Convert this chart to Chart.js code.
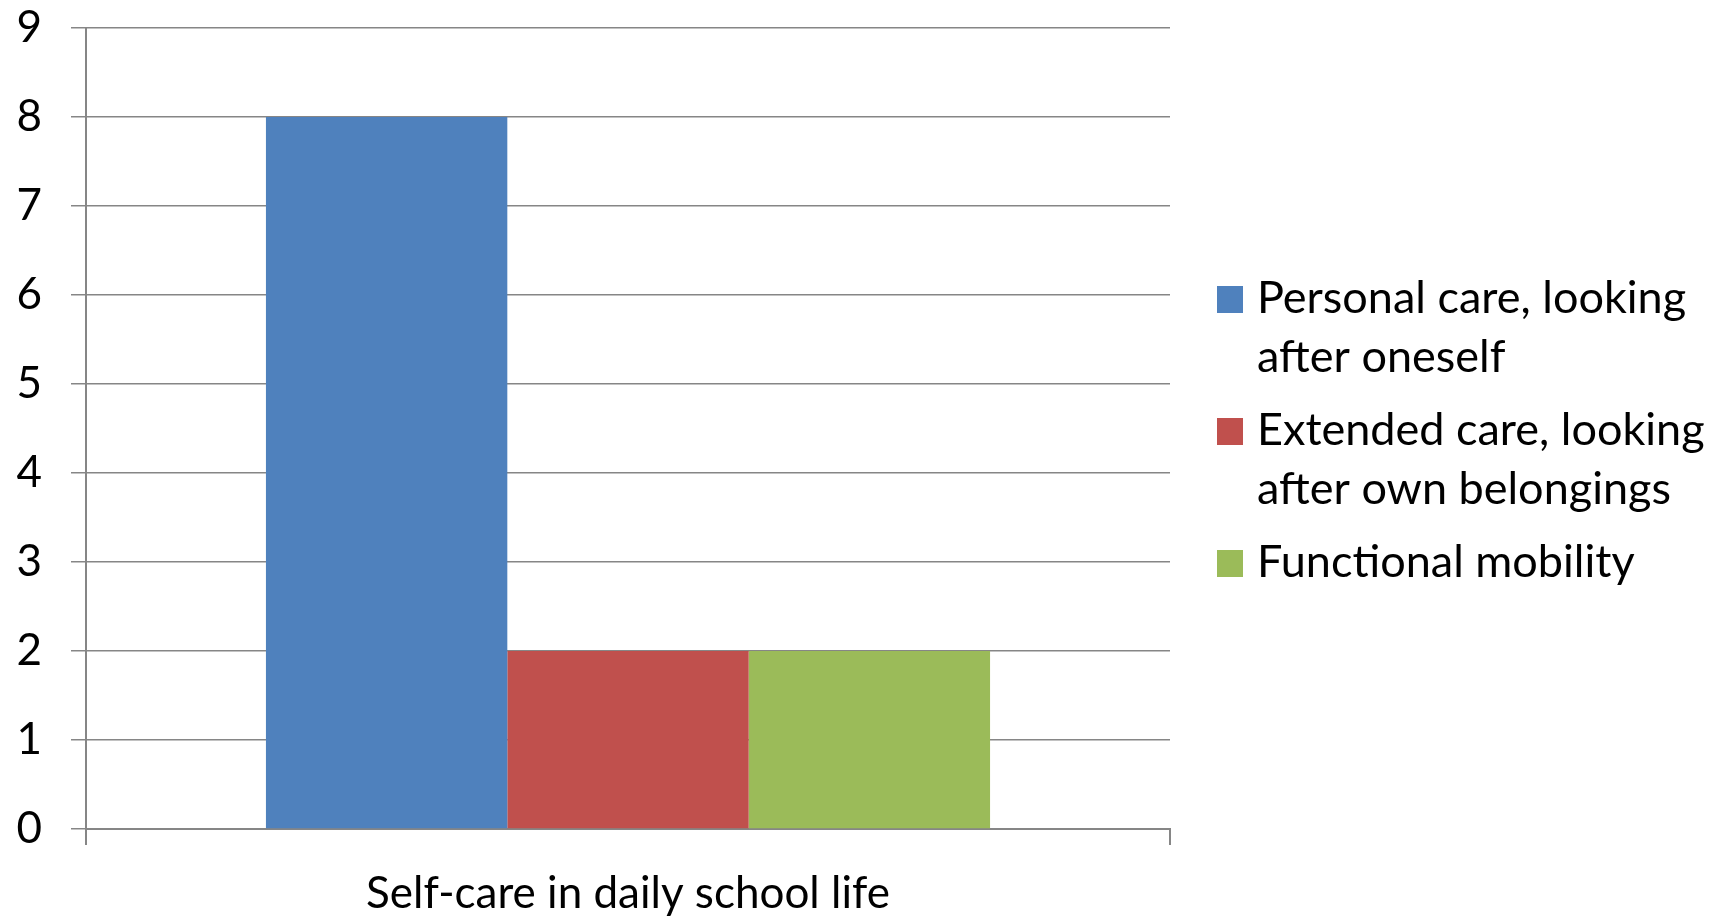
<!DOCTYPE html>
<html>
<head>
<meta charset="utf-8">
<script src="https://cdn.jsdelivr.net/npm/chart.js@4/dist/chart.umd.min.js"></script>
<style>
  html, body { margin: 0; padding: 0; background: #fff; }
  #wrap { width: 1715px; height: 916px; position: relative; }
</style>
</head>
<body>
<div id="wrap"><canvas id="careChart"></canvas></div>
<script>
  const categories = ['Self-care in daily school life'];
  const seriesNames = [
    ['Personal care, looking', 'after oneself'],
    ['Extended care, looking', 'after own belongings'],
    ['Functional mobility']
  ];
  const personalCare = [8];
  const extendedCare = [2];
  const functionalMobility = [2];
  const yTicks = [0, 1, 2, 3, 4, 5, 6, 7, 8, 9];

  const colors = ['#4F81BD', '#C0504D', '#9BBB59'];
  const gridColor = '#868686';
  const fontFamily = 'Lato, "Open Sans", sans-serif';

  // legend to the right of the plot, labels wrap onto two lines
  const sideLegend = {
    id: 'sideLegend',
    afterDraw(chart) {
      const ctx = chart.ctx;
      const x = chart.chartArea.right + 47;
      let baseline = 313;
      ctx.save();
      ctx.font = '45px ' + fontFamily;
      ctx.textBaseline = 'alphabetic';
      ctx.textAlign = 'left';
      chart.data.datasets.forEach(function (ds) {
        ctx.fillStyle = ds.backgroundColor;
        ctx.fillRect(x, baseline - 27, 26, 27);
        ctx.fillStyle = '#000';
        ds.label.forEach(function (line, i) {
          ctx.fillText(line, x + 40, baseline + i * 59);
        });
        baseline += ds.label.length * 59 + 14;
      });
      ctx.restore();
    }
  };

  const ctx = document.getElementById('careChart').getContext('2d');
  new Chart(ctx, {
    type: 'bar',
    data: {
      labels: categories,
      datasets: [
        { label: seriesNames[0], data: personalCare, backgroundColor: colors[0] },
        { label: seriesNames[1], data: extendedCare, backgroundColor: colors[1] },
        { label: seriesNames[2], data: functionalMobility, backgroundColor: colors[2] }
      ]
    },
    options: {
      responsive: true,
      maintainAspectRatio: false,
      animation: false,
      layout: { padding: { top: 28, right: 545, left: 0, bottom: 0 } },
      datasets: {
        bar: { categoryPercentage: 0.668, barPercentage: 1, borderWidth: 0 }
      },
      plugins: {
        legend: { display: false },
        tooltip: { enabled: false }
      },
      scales: {
        x: {
          grid: { drawOnChartArea: false, color: gridColor, lineWidth: 2, tickLength: 16, offset: true },
          border: { color: gridColor, width: 2 },
          ticks: { color: '#000', font: { family: fontFamily, size: 44 }, padding: 22 },
          afterFit(scale) { scale.height = 87; }
        },
        y: {
          min: yTicks[0],
          max: yTicks[yTicks.length - 1],
          afterBuildTicks(scale) { scale.ticks = yTicks.map(v => ({ value: v })); },
          grid: { color: gridColor, lineWidth: 1.5, tickLength: 15 },
          border: { color: gridColor, width: 2 },
          ticks: { color: '#000', font: { family: fontFamily, size: 44 }, padding: 29 },
          afterFit(scale) {
            scale.width = 86;
            scale.paddingTop = 0;
            scale.paddingBottom = 0;
          }
        }
      }
    },
    plugins: [sideLegend]
  });
</script>
</body>
</html>
